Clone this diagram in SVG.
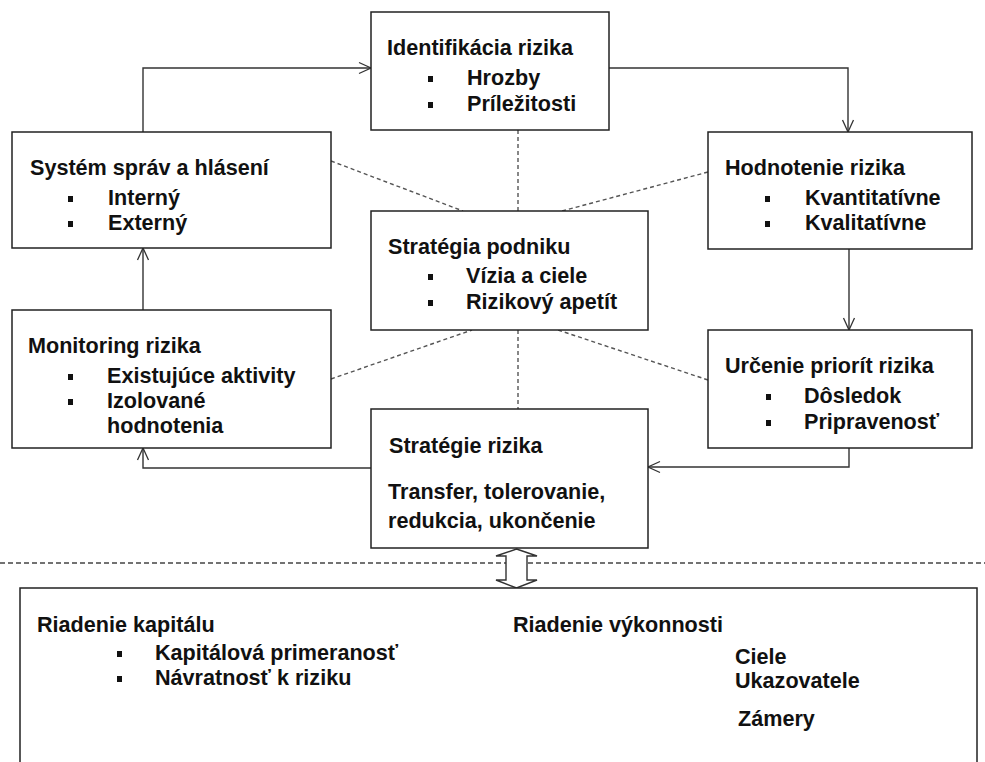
<svg xmlns="http://www.w3.org/2000/svg" width="985" height="762" viewBox="0 0 985 762">
  <defs>
    <marker id="open" viewBox="0 0 14 14" refX="13" refY="7" markerWidth="14" markerHeight="14" markerUnits="userSpaceOnUse" orient="auto">
      <path d="M1,1.5 L13,7 L1,12.5" fill="none" stroke="#333" stroke-width="1.3"/>
    </marker>
  </defs>
  <style>
    .box { fill: #fff; stroke: #222; stroke-width: 1.5; }
    .t { font-family: "Liberation Sans", Arial, sans-serif; font-weight: bold; font-size: 21.6px; fill: #111; }
    .bul { fill: #111; }
    .flow { fill: none; stroke: #333; stroke-width: 1.4; marker-end: url(#open); }
    .link { fill: none; stroke: #555; stroke-width: 1.4; stroke-dasharray: 4 3; }
    .sep { fill: none; stroke: #444; stroke-width: 1.4; stroke-dasharray: 5 3; }
  </style>
  <rect width="985" height="762" fill="#fff"/>

  <!-- connectors -->
  <g id="connectors">
    <path class="flow" d="M143,132 V68 H371"/>
    <path class="flow" d="M609,68 H848 V132"/>
    <path class="flow" d="M849,249 V330"/>
    <path class="flow" d="M849,448 V467 H648"/>
    <path class="flow" d="M371,468 H143 V448"/>
    <path class="flow" d="M143,310 V248"/>
    <path class="link" d="M518,130 V211"/>
    <path class="link" d="M518,330 V409"/>
    <path class="link" d="M331,161 L463,211"/>
    <path class="link" d="M708,172 L562,211"/>
    <path class="link" d="M331,379 L472,330"/>
    <path class="link" d="M708,380 L558,330"/>
    <path class="sep" d="M0,563 H985"/>
    <path d="M516.5,549 L537,556 L527,556 L527,580 L537,580 L516.5,588 L496,580 L506,580 L506,556 L496,556 Z" fill="#fff" stroke="#333" stroke-width="1.4"/>
  </g>

  <g id="identifikacia">
    <rect class="box" x="371" y="12" width="238" height="118"/>
    <text class="t" x="387" y="55">Identifikácia rizika</text>
    <rect class="bul" x="428" y="76" width="5" height="6"/>
    <text class="t" x="467" y="85">Hrozby</text>
    <rect class="bul" x="428" y="102" width="5" height="6"/>
    <text class="t" x="467" y="111">Príležitosti</text>
  </g>

  <g id="system-sprav">
    <rect class="box" x="12" y="132" width="319" height="116"/>
    <text class="t" x="30" y="175">Systém správ a hlásení</text>
    <rect class="bul" x="68" y="196" width="5" height="6"/>
    <text class="t" x="108" y="205">Interný</text>
    <rect class="bul" x="68" y="221" width="5" height="6"/>
    <text class="t" x="108" y="230">Externý</text>
  </g>

  <g id="hodnotenie">
    <rect class="box" x="708" y="132" width="264" height="117"/>
    <text class="t" x="725" y="175">Hodnotenie rizika</text>
    <rect class="bul" x="765" y="196" width="5" height="6"/>
    <text class="t" x="805" y="205">Kvantitatívne</text>
    <rect class="bul" x="765" y="221" width="5" height="6"/>
    <text class="t" x="805" y="230">Kvalitatívne</text>
  </g>

  <g id="strategia-podniku">
    <rect class="box" x="371" y="211" width="277" height="119"/>
    <text class="t" x="388" y="254">Stratégia podniku</text>
    <rect class="bul" x="428" y="274" width="5" height="6"/>
    <text class="t" x="466" y="283">Vízia a ciele</text>
    <rect class="bul" x="428" y="300" width="5" height="6"/>
    <text class="t" x="466" y="309">Rizikový apetít</text>
  </g>

  <g id="monitoring">
    <rect class="box" x="12" y="310" width="319" height="138"/>
    <text class="t" x="28" y="353">Monitoring rizika</text>
    <rect class="bul" x="68" y="374" width="5" height="6"/>
    <text class="t" x="107" y="383">Existujúce aktivity</text>
    <rect class="bul" x="68" y="399" width="5" height="6"/>
    <text class="t" x="107" y="408">Izolované</text>
    <text class="t" x="107" y="433">hodnotenia</text>
  </g>

  <g id="urcenie-priorit">
    <rect class="box" x="708" y="330" width="264" height="118"/>
    <text class="t" x="725" y="373">Určenie priorít rizika</text>
    <rect class="bul" x="766" y="394" width="5" height="6"/>
    <text class="t" x="804" y="403">Dôsledok</text>
    <rect class="bul" x="766" y="420" width="5" height="6"/>
    <text class="t" x="804" y="429">Pripravenosť</text>
  </g>

  <g id="strategie-rizika">
    <rect class="box" x="371" y="409" width="277" height="139"/>
    <text class="t" x="389" y="453">Stratégie rizika</text>
    <text class="t" x="388" y="499">Transfer, tolerovanie,</text>
    <text class="t" x="388" y="528">redukcia, ukončenie</text>
  </g>

  <g id="riadenie">
    <rect class="box" x="20" y="588" width="957" height="190"/>
    <text class="t" x="37" y="632">Riadenie kapitálu</text>
    <rect class="bul" x="117" y="651" width="5" height="6"/>
    <text class="t" x="155" y="660">Kapitálová primeranosť</text>
    <rect class="bul" x="117" y="676" width="5" height="6"/>
    <text class="t" x="155" y="685">Návratnosť k riziku</text>
    <text class="t" x="513" y="632">Riadenie výkonnosti</text>
    <text class="t" x="735" y="664">Ciele</text>
    <text class="t" x="735" y="688">Ukazovatele</text>
    <text class="t" x="738" y="726">Zámery</text>
  </g>
</svg>
